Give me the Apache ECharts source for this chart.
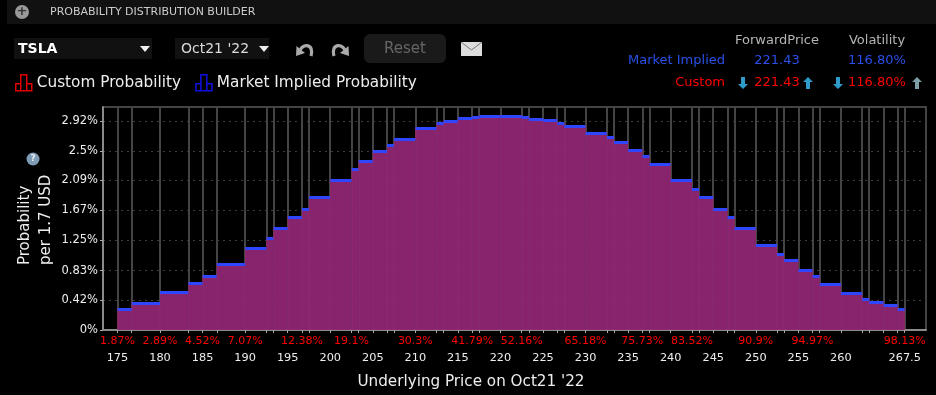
<!DOCTYPE html>
<html>
<head>
<meta charset="utf-8">
<style>
    html, body { margin: 0; padding: 0; background: #000; }
    #chartContainer { width: 936px; height: 395px; }
</style>
<script src="https://cdn.jsdelivr.net/npm/echarts@6/dist/echarts.min.js"></script>
</head>
<body>
<div id="chartContainer"></div>
<script>
var font = '"DejaVu Sans", sans-serif';

// bin edges of the histogram (USD), binValues has one height per bin (%)
var binEdges = [175, 176.67, 180, 183.33, 185, 186.67, 190, 192.5, 193.33, 195, 196.67, 197.5,
    200, 202.5, 203.33, 205, 206.67, 207.5, 210, 212.5, 213.33, 215, 216.67, 217.5,
    220, 222.5, 223.33, 225, 226.67, 227.5, 230, 232.5, 233.33, 235, 236.67, 237.5,
    240, 242.5, 243.33, 245, 246.67, 247.5, 250, 252.5, 253.33, 255, 256.67, 257.5,
    260, 262.5, 263.33, 265, 266.67, 267.5];
var binValues = [0.28, 0.363, 0.512, 0.638, 0.736, 0.908, 1.131, 1.276, 1.406, 1.565, 1.676,
    1.84, 2.08, 2.24, 2.343, 2.487, 2.566, 2.659, 2.804, 2.874, 2.902, 2.948, 2.966,
    2.97, 2.97, 2.966, 2.934, 2.92, 2.882, 2.84, 2.738, 2.678, 2.612, 2.501, 2.421,
    2.31, 2.08, 1.952, 1.84, 1.676, 1.565, 1.406, 1.178, 1.052, 0.959, 0.829, 0.745,
    0.633, 0.507, 0.423, 0.377, 0.331, 0.279];

var priceTicks = [175, 180, 185, 190, 195, 200, 205, 210, 215, 220, 225, 230, 235, 240, 245, 250, 255, 260, 267.5];
var probabilityTicks = [0, 0.42, 0.83, 1.25, 1.67, 2.09, 2.5, 2.92];

// cumulative probability labels printed in red under the axis
var cumulativePrices = [175, 180, 185, 190, 196.67, 202.5, 210, 216.67, 222.5, 230, 236.67, 242.5, 250, 256.67, 267.5];
var cumulativeLabels = ['1.87%', '2.89%', '4.52%', '7.07%', '12.38%', '19.1%', '30.3%', '41.79%',
    '52.16%', '65.18%', '75.73%', '83.52%', '90.9%', '94.97%', '98.13%'];

var binData = binValues.map(function (v, i) {
    return [binEdges[i], binEdges[i + 1], v];
});

function histogram(fill, lineColor) {
    return function (params, api) {
        var left = api.coord([api.value(0), api.value(2)]);
        var right = api.coord([api.value(1), 0]);
        var top = Math.round(left[1]);
        return {
            type: 'group',
            children: [{
                type: 'rect',
                shape: { x: left[0], y: top, width: right[0] - left[0], height: right[1] - top },
                style: { fill: fill }
            }, {
                type: 'rect',
                shape: { x: left[0], y: top - 2, width: right[0] - left[0], height: 3 },
                style: { fill: lineColor }
            }]
        };
    };
}

function label(text, x, y, color, size, align, extra) {
    var style = { text: text, x: x, y: y, fill: color, font: (extra || '') + ' ' + size + 'px ' + font,
        textAlign: align || 'left', textVerticalAlign: 'middle' };
    return { type: 'text', z: 10, style: style };
}

function arrow(x, y, up, color) {
    var d = up ? -1 : 1;
    return {
        type: 'polygon', z: 10,
        shape: { points: [[x - 2, y - 6 * d], [x + 2, y - 6 * d], [x + 2, y + d], [x + 5, y + d], [x, y + 6 * d], [x - 5, y + d], [x - 2, y + d]] },
        style: { fill: color }
    };
}

function box(x, y, w, h, color, r) {
    return { type: 'rect', z: 5, shape: { x: x, y: y, width: w, height: h, r: r || 0 }, style: { fill: color } };
}

function caret(x, y) {
    return { type: 'polygon', z: 10, shape: { points: [[x - 5, y - 3], [x + 5, y - 3], [x, y + 3]] }, style: { fill: '#eee' } };
}

// undo and redo icons, flip mirrors the undo shape into the redo one
function turnIcon(flip) {
    var fx = function (x) { return flip ? 645 - x : x; };
    return [{
        type: 'bezierCurve', z: 10,
        shape: { x1: fx(300), y1: 50, cpx1: fx(304), cpy1: 43, cpx2: fx(314), cpy2: 44, x2: fx(311), y2: 56 },
        style: { stroke: '#aaa', fill: null, lineWidth: 3.2 }
    }, {
        type: 'polygon', z: 10,
        shape: { points: [[fx(296), 56], [fx(296.5), 46], [fx(305), 53]] },
        style: { fill: '#aaa' }
    }];
}

var iconPath = 'path://M0 16V9H5V0H11V9H16V16ZM5 9V16M11 9V16';

var header = [
    box(7, 0, 929, 24, '#111'),
    { type: 'circle', z: 10, shape: { cx: 22, cy: 12, r: 7 }, style: { fill: '#999' } },
    label('+', 22, 12, '#333', 13, 'center', 'bold'),
    label('PROBABILITY DISTRIBUTION BUILDER', 50, 12.5, '#ccc', 11),
    box(14, 38, 138, 21, '#111'),
    label('TSLA', 18, 49, '#fff', 14, 'left', 'bold'),
    caret(145, 49),
    box(175, 38, 94, 21, '#111'),
    label("Oct21 '22", 181, 49, '#ddd', 14),
    caret(264, 49),
    box(364, 34, 82, 29, '#1a1a1a', 6),
    label('Reset', 405, 49, '#666', 15, 'center'),
    box(461, 42, 21, 14, '#ddd'),
    { type: 'polyline', z: 11, shape: { points: [[461, 42], [471.5, 50], [482, 42]] }, style: { stroke: '#777', fill: null, lineWidth: 1 } },
    label('ForwardPrice', 777, 40.5, '#b5b5b5', 13, 'center'),
    label('Volatility', 877, 40.5, '#b5b5b5', 13, 'center'),
    label('Market Implied', 725, 61, '#2b4fe8', 13, 'right'),
    label('221.43', 777, 61, '#2b4fe8', 13, 'center'),
    label('116.80%', 877, 61, '#2b4fe8', 13, 'center'),
    label('Custom', 725, 83, '#f00', 13, 'right'),
    label('221.43', 777, 83, '#f00', 13, 'center'),
    label('116.80%', 877, 83, '#f00', 13, 'center'),
    arrow(743, 83, false, '#2d9ccb'),
    arrow(808, 83, true, '#2d9ccb'),
    arrow(838, 83, false, '#2d9ccb'),
    arrow(917, 83, true, '#7f9fa8'),
    { type: 'circle', z: 10, shape: { cx: 33, cy: 159, r: 6.5 }, style: { fill: '#7f9bb5' } },
    label('?', 33, 159, '#e8eef2', 9, 'center', 'bold'),
    { type: 'text', z: 10, x: 25, y: 265, rotation: Math.PI / 2,
        style: { text: 'Probability', fill: '#eee', font: '15px ' + font, textAlign: 'left', textVerticalAlign: 'middle' } },
    { type: 'text', z: 10, x: 46, y: 265, rotation: Math.PI / 2,
        style: { text: 'per 1.7 USD', fill: '#eee', font: '15px ' + font, textAlign: 'left', textVerticalAlign: 'middle' } }
].concat(turnIcon(false), turnIcon(true));

var chart = echarts.init(document.getElementById('chartContainer'), null, { renderer: 'canvas' });

chart.setOption({
    backgroundColor: '#000',
    animation: false,
    graphic: header,
    legend: {
        left: 10,
        top: 69,
        itemWidth: 16,
        itemHeight: 16,
        itemGap: 14,
        textStyle: { color: '#eee', fontSize: 15.3, fontFamily: font },
        data: [
            { name: 'Custom Probability', icon: iconPath, itemStyle: { color: 'transparent', borderColor: '#e00000', borderWidth: 1.5 } },
            { name: 'Market Implied Probability', icon: iconPath, itemStyle: { color: 'transparent', borderColor: '#1010e0', borderWidth: 1.5 } }
        ]
    },
    grid: { left: 103, right: 10, top: 107, bottom: 65, outerBoundsMode: 'none', show: true, borderColor: '#5a5a5a', borderWidth: 1.5 },
    xAxis: [{
        type: 'value',
        min: 173.3,
        max: 270,
        name: "Underlying Price on Oct21 '22",
        nameLocation: 'middle',
        nameGap: 45,
        nameTextStyle: { color: '#eee', fontSize: 15.2, fontFamily: font, padding: [0, 87, 0, 0] },
        axisLine: { onZero: false, lineStyle: { color: '#8a8a8a', width: 2 } },
        axisTick: { customValues: binEdges, length: 3, lineStyle: { color: '#aaa' } },
        splitLine: { show: true, lineStyle: { color: '#444', width: 2 } },
        axisLabel: { customValues: priceTicks, color: '#eee', fontSize: 11.3, fontFamily: font, margin: 23 }
    }, {
        type: 'value',
        position: 'bottom',
        min: 173.3,
        max: 270,
        axisLine: { show: false },
        axisTick: { show: false },
        splitLine: { show: false },
        axisLabel: {
            customValues: cumulativePrices,
            color: '#f00',
            fontSize: 11,
            fontFamily: font,
            margin: 6,
            formatter: function (value) {
                return cumulativeLabels[cumulativePrices.indexOf(value)];
            }
        }
    }],
    yAxis: {
        type: 'value',
        min: 0,
        max: 3.115,
        axisLine: { show: true, lineStyle: { color: '#8a8a8a', width: 2 } },
        axisTick: { show: true, customValues: probabilityTicks, length: 3, lineStyle: { color: '#aaa' } },
        splitLine: { show: true, lineStyle: { color: '#3c3c3c', type: [2, 4] } },
        axisLabel: { customValues: probabilityTicks, color: '#eee', fontSize: 11.5, fontFamily: font, margin: 5, formatter: '{value}%' }
    },
    series: [{
        name: 'Custom Probability',
        type: 'custom',
        encode: { x: [0, 1], y: 2 },
        data: binData,
        itemStyle: { color: '#e00000' },
        renderItem: histogram('rgba(255,24,0,0.91)', '#f00')
    }, {
        name: 'Market Implied Probability',
        type: 'custom',
        encode: { x: [0, 1], y: 2 },
        data: binData,
        itemStyle: { color: '#1010e0' },
        renderItem: histogram('rgba(40,50,220,0.5)', '#2f46ff')
    }]
});
</script>
</body>
</html>
